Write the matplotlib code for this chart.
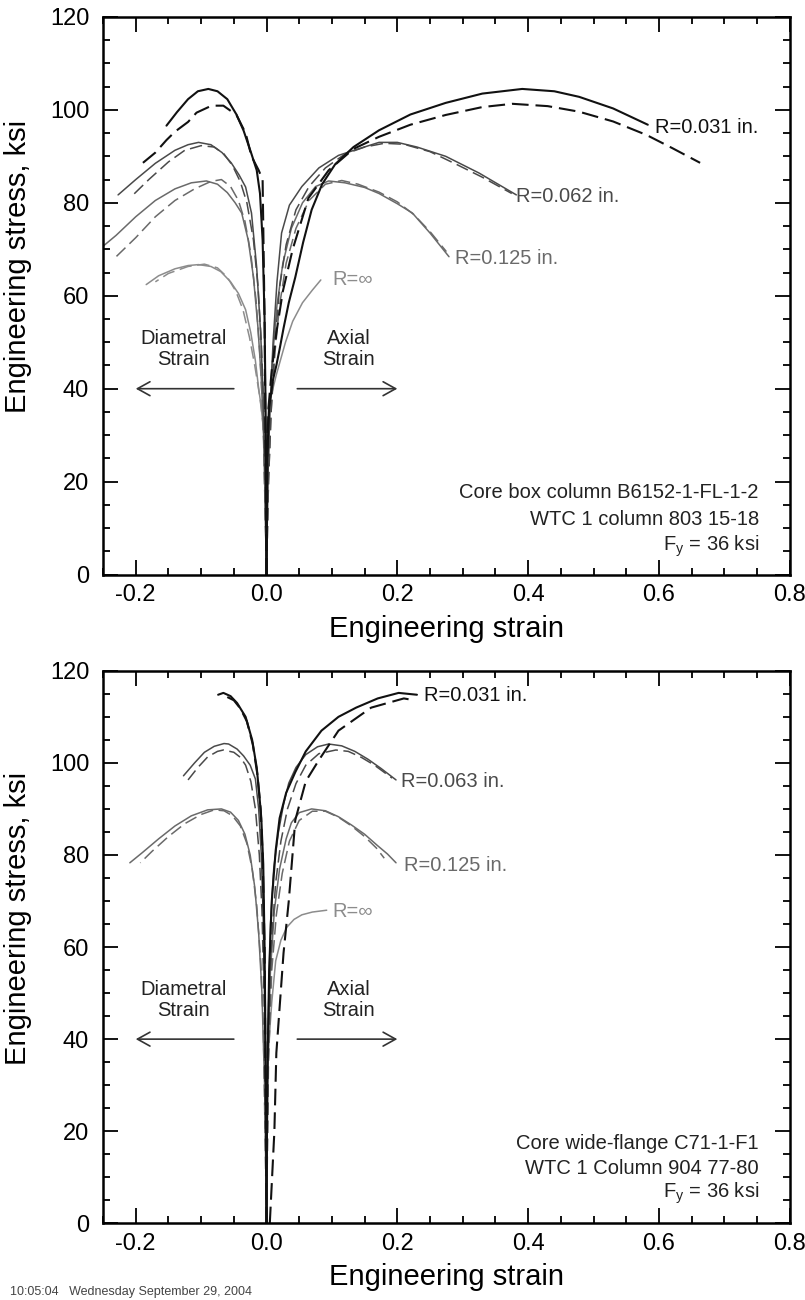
import numpy as np
import matplotlib
matplotlib.use("Agg")
import matplotlib.pyplot as plt
from matplotlib.ticker import MultipleLocator

plt.rcParams['font.family'] = ['Liberation Sans', 'DejaVu Sans']
plt.rcParams['mathtext.fontset'] = 'custom'
plt.rcParams['mathtext.rm'] = 'Liberation Sans'
plt.rcParams['lines.scale_dashes'] = False

# ---- top panel data (strain, stress ksi) ----
top_031_ax_solid = [(0, 0), (0.001, 25), (0.004, 36), (0.010, 42), (0.015, 45), (0.020, 48.5),
                    (0.026, 53), (0.034, 58.5), (0.044, 64), (0.056, 71.5), (0.069, 78.5), (0.085, 84),
                    (0.105, 88.3), (0.133, 92), (0.172, 95.6), (0.22, 99), (0.274, 101.5), (0.33, 103.5),
                    (0.391, 104.5), (0.44, 104), (0.478, 102.8), (0.53, 100.3), (0.583, 96.8)]
top_031_ax_dash = [(0, 0), (0.001, 25), (0.003, 36), (0.008, 44), (0.015, 52), (0.025, 61), (0.04, 70),
                   (0.064, 81), (0.095, 87), (0.133, 91.6), (0.172, 94.2), (0.22, 96.8), (0.274, 98.9),
                   (0.33, 100.6), (0.376, 101.3), (0.43, 100.8), (0.478, 99.6), (0.53, 97.5),
                   (0.581, 94.6), (0.62, 91.8), (0.663, 88.6)]
top_031_di_solid = [(0, 0), (-0.001, 30), (-0.003, 55), (-0.006, 72), (-0.010, 82), (-0.015, 87),
                    (-0.023, 90.5), (-0.035, 95.5), (-0.046, 99), (-0.06, 102.3), (-0.075, 104),
                    (-0.089, 104.5), (-0.105, 104), (-0.12, 102.3), (-0.137, 99.5), (-0.153, 96.6)]
top_031_di_dash = [(0, 0), (-0.003, 55), (-0.005, 75), (-0.006, 85), (-0.012, 87), (-0.023, 90),
                   (-0.032, 95), (-0.046, 98.9), (-0.066, 100.9), (-0.084, 100.9), (-0.107, 99.4),
                   (-0.12, 97.4), (-0.14, 95.3), (-0.153, 93.5), (-0.17, 90.8), (-0.189, 88.6)]

top_062_ax_solid = [(0, 0), (0.002, 20), (0.005, 35), (0.01, 50), (0.016, 63), (0.023, 73.5),
                    (0.035, 79.5), (0.054, 83.5), (0.08, 87.5), (0.11, 90.2), (0.136, 91.4),
                    (0.172, 93), (0.2, 93), (0.23, 92), (0.274, 90), (0.325, 86.4), (0.382, 81.7)]
top_062_ax_dash = [(0, 0), (0.003, 20), (0.007, 35), (0.013, 50), (0.02, 62), (0.03, 71), (0.045, 78.5),
                   (0.065, 83.5), (0.09, 87.5), (0.12, 90.5), (0.15, 92), (0.18, 92.8), (0.21, 92.6),
                   (0.25, 91), (0.29, 88.3), (0.33, 85.5), (0.375, 82)]
top_062_di_solid = [(0, 0), (-0.002, 20), (-0.005, 38), (-0.009, 52), (-0.015, 66), (-0.023, 77.8),
                    (-0.032, 83.4), (-0.042, 86), (-0.054, 88.6), (-0.068, 90.8), (-0.085, 92.5),
                    (-0.104, 93), (-0.12, 92.5), (-0.14, 91.3), (-0.17, 88.5), (-0.2, 85), (-0.227, 81.7)]
top_062_di_dash = [(0, 0), (-0.004, 35), (-0.008, 50), (-0.013, 62), (-0.02, 72), (-0.03, 80),
                   (-0.04, 84.5), (-0.052, 88), (-0.065, 90.5), (-0.08, 92), (-0.1, 92.3),
                   (-0.125, 91.3), (-0.15, 88.8), (-0.18, 85), (-0.207, 81.3)]

top_125_ax_solid = [(0, 0), (0.002, 20), (0.005, 35), (0.01, 48), (0.016, 58), (0.025, 67),
                    (0.038, 74.5), (0.055, 80), (0.075, 83.5), (0.095, 84.7), (0.12, 84.3),
                    (0.15, 83.3), (0.172, 82), (0.2, 79.8), (0.223, 77.8), (0.25, 73.5), (0.279, 68.4)]
top_125_ax_dash = [(0, 0), (0.003, 20), (0.007, 35), (0.013, 48), (0.02, 58), (0.03, 67), (0.045, 74.5),
                   (0.065, 80.5), (0.09, 84), (0.115, 84.8), (0.14, 84), (0.172, 82.3), (0.2, 80.2),
                   (0.225, 77.5), (0.25, 73.8), (0.275, 69.5)]
top_125_di_solid = [(0, 0), (-0.004, 28), (-0.008, 42), (-0.013, 53), (-0.02, 64), (-0.028, 72),
                    (-0.038, 77.8), (-0.048, 80), (-0.06, 82.2), (-0.075, 84), (-0.092, 84.7),
                    (-0.115, 84.3), (-0.14, 83), (-0.17, 80.5), (-0.2, 77), (-0.23, 73), (-0.253, 70.3)]
top_125_di_dash = [(0, 0), (-0.005, 33), (-0.01, 47), (-0.016, 59), (-0.024, 69), (-0.033, 76),
                   (-0.043, 80.5), (-0.055, 83.5), (-0.069, 85), (-0.085, 84.6), (-0.11, 83),
                   (-0.14, 80.5), (-0.17, 77), (-0.2, 72.5), (-0.23, 68.4)]

top_inf_ax = [(0, 0), (0.001, 25), (0.003, 36), (0.008, 39), (0.015, 43), (0.022, 46.5), (0.029, 50),
              (0.04, 54.5), (0.055, 58.5), (0.07, 61.2), (0.083, 63.4)]
top_inf_di_solid = [(0, 0), (-0.004, 30), (-0.008, 36), (-0.012, 40), (-0.017, 46), (-0.024, 52),
                    (-0.032, 57), (-0.043, 60.5), (-0.055, 63), (-0.07, 65.2), (-0.085, 66.3),
                    (-0.104, 66.7), (-0.12, 66.5), (-0.14, 65.8), (-0.165, 64.3), (-0.184, 62.4)]
top_inf_di_dash = [(0, 0), (-0.005, 32), (-0.01, 38), (-0.018, 45), (-0.026, 51), (-0.036, 57),
                   (-0.047, 61), (-0.06, 64), (-0.075, 66), (-0.095, 66.8), (-0.12, 66.3),
                   (-0.15, 64.8), (-0.17, 63)]

# ---- bottom panel data ----
bot_031_ax_solid = [(0, 0), (0.001, 30), (0.004, 55), (0.008, 70), (0.014, 81), (0.02, 88), (0.03, 93.5),
                    (0.044, 98), (0.06, 102.5), (0.084, 107), (0.11, 110), (0.137, 112), (0.17, 114),
                    (0.202, 115.2), (0.23, 114.8)]
bot_031_ax_dash = [(0.005, 0), (0.012, 20), (0.015, 37), (0.026, 58.7), (0.034, 70), (0.044, 87.6),
                   (0.06, 96), (0.08, 100.6), (0.11, 107), (0.16, 112), (0.21, 114), (0.222, 113.7)]
bot_031_di_solid = [(0, 0), (-0.001, 30), (-0.003, 60), (-0.005, 78), (-0.008, 88), (-0.011, 93),
                    (-0.015, 99), (-0.022, 105), (-0.032, 110), (-0.045, 113), (-0.055, 114.5),
                    (-0.066, 115.2), (-0.074, 114.8)]
bot_031_di_dash = [(0, 0), (-0.003, 60), (-0.006, 80), (-0.009, 90), (-0.014, 97.5), (-0.021, 104),
                   (-0.03, 109), (-0.04, 111.8), (-0.05, 113.6), (-0.06, 114.3)]

bot_063_ax_solid = [(0, 0), (0.002, 40), (0.006, 65), (0.011, 77), (0.018, 84.8), (0.026, 91),
                    (0.034, 95.6), (0.045, 99), (0.06, 101.8), (0.078, 103.5), (0.095, 104.1),
                    (0.115, 103.7), (0.135, 102.5), (0.155, 100.8), (0.175, 98.8), (0.198, 96.3)]
bot_063_ax_dash = [(0, 0), (0.003, 40), (0.008, 62), (0.014, 74), (0.022, 83), (0.032, 90), (0.045, 95.5),
                   (0.06, 99.5), (0.08, 102), (0.106, 102.8), (0.125, 102.5), (0.145, 101.2),
                   (0.165, 99.5), (0.192, 96.7)]
bot_063_di_solid = [(0, 0), (-0.002, 40), (-0.005, 66), (-0.008, 80), (-0.012, 90), (-0.017, 96.5),
                    (-0.025, 99.5), (-0.035, 101.5), (-0.045, 103), (-0.058, 104.1), (-0.065, 104.2),
                    (-0.08, 103.6), (-0.095, 102.3), (-0.11, 100), (-0.127, 97.2)]
bot_063_di_dash = [(0, 0), (-0.003, 45), (-0.007, 68), (-0.011, 80), (-0.017, 90), (-0.024, 96),
                   (-0.032, 99.5), (-0.04, 101.2), (-0.05, 102.3), (-0.066, 102.8), (-0.075, 102.5),
                   (-0.09, 101.3), (-0.105, 99), (-0.12, 96.3)]

bot_125_ax_solid = [(0, 0), (0.002, 35), (0.006, 55), (0.012, 68), (0.02, 77), (0.03, 83.5), (0.038, 87),
                    (0.05, 89.2), (0.069, 90), (0.09, 89.6), (0.11, 88.3), (0.13, 86.5), (0.15, 84.5),
                    (0.17, 82), (0.185, 80.2), (0.198, 78.3)]
bot_125_ax_dash = [(0, 0), (0.003, 35), (0.008, 55), (0.015, 67), (0.024, 76), (0.035, 83), (0.05, 87.5),
                   (0.07, 89.5), (0.09, 89.5), (0.11, 88.2), (0.13, 86.3), (0.15, 84), (0.168, 81.5),
                   (0.18, 79.3)]
bot_125_di_solid = [(0, 0), (-0.003, 30), (-0.007, 50), (-0.012, 63), (-0.018, 73), (-0.025, 80),
                    (-0.033, 84.5), (-0.043, 87.5), (-0.055, 89.3), (-0.069, 90), (-0.09, 89.8),
                    (-0.115, 88.5), (-0.14, 86.3), (-0.165, 83.5), (-0.19, 80.5), (-0.209, 78.3)]
bot_125_di_dash = [(0, 0), (-0.005, 43), (-0.009, 57), (-0.015, 69), (-0.022, 77), (-0.03, 82.5),
                   (-0.04, 86.3), (-0.052, 88.5), (-0.065, 89.6), (-0.08, 89.8), (-0.1, 88.8),
                   (-0.125, 86.8), (-0.15, 84), (-0.175, 80.8), (-0.193, 78.3)]

bot_inf_ax = [(0, 0), (0.001, 30), (0.004, 40), (0.008, 48), (0.014, 57), (0.022, 61.5), (0.031, 64.3),
              (0.042, 66), (0.054, 67), (0.07, 67.6), (0.092, 68)]

top_box = ["Core box column B6152-1-FL-1-2", "WTC 1 column 803 15-18", r"F$_{\mathrm{y}}$ = 36 ksi"]
bot_box = ["Core wide-flange C71-1-F1", "WTC 1 Column 904 77-80", r"F$_{\mathrm{y}}$ = 36 ksi"]
top_rlabels = ["R=0.031 in.", "R=0.062 in.", "R=0.125 in.", "R=\u221e"]
bot_rlabels = ["R=0.031 in.", "R=0.063 in.", "R=0.125 in.", "R=\u221e"]

C031, C062, C125, CINF = '#111111', '#4a4a4a', '#6a6a6a', '#8c8c8c'

fig = plt.figure(figsize=(8.05, 13.0), dpi=100)
ax1 = fig.add_axes([0.128, 0.558, 0.853, 0.429])
ax2 = fig.add_axes([0.128, 0.059, 0.853, 0.425])


def curve(ax, pts, color, dashed=False, lw=1.2):
    a = np.array(pts)
    ln, = ax.plot(a[:, 0], a[:, 1], color=color, lw=lw, solid_capstyle='round',
                  solid_joinstyle='round')
    if dashed:
        ln.set_dashes((12, 5) if color == C031 else (9, 4))


def style(ax):
    ax.set_xlim(-0.25, 0.8)
    ax.set_ylim(0, 120)
    ax.xaxis.set_major_locator(MultipleLocator(0.2))
    ax.xaxis.set_minor_locator(MultipleLocator(0.05))
    ax.yaxis.set_major_locator(MultipleLocator(20))
    ax.yaxis.set_minor_locator(MultipleLocator(5))
    ax.xaxis.set_major_formatter(plt.FuncFormatter(lambda v, p: "%.1f" % v))
    ax.tick_params(which='both', direction='in', top=True, right=True, width=1.3, labelsize=17)
    ax.tick_params(which='major', length=11)
    ax.tick_params(which='minor', length=5)
    ax.tick_params(axis='x', pad=7)
    ax.tick_params(axis='y', pad=10)
    for s in ax.spines.values():
        s.set_linewidth(1.8)
    ax.set_xlabel("Engineering strain", fontsize=21)
    ax.set_ylabel("Engineering stress, ksi", fontsize=21)
    ax.xaxis.set_label_coords(0.5, -0.072)
    ax.yaxis.set_label_coords(-0.103, 0.552)
    ax.annotate('', xy=(-0.2, 40), xytext=(-0.05, 40),
                arrowprops=dict(arrowstyle='->,head_length=0.45,head_width=0.25', lw=1.2,
                                color='#333333', mutation_scale=20, shrinkA=0, shrinkB=0))
    ax.annotate('', xy=(0.2, 40), xytext=(0.047, 40),
                arrowprops=dict(arrowstyle='->,head_length=0.45,head_width=0.25', lw=1.2,
                                color='#333333', mutation_scale=20, shrinkA=0, shrinkB=0))
    ax.text(-0.127, 48.5, "Diametral\nStrain", ha='center', va='center', fontsize=14.5,
            linespacing=1.1, color='#222222')
    ax.text(0.126, 48.5, "Axial\nStrain", ha='center', va='center', fontsize=14.5,
            linespacing=1.1, color='#222222')


# top panel
for pts, c, d in [(top_inf_di_dash, CINF, True), (top_inf_di_solid, CINF, False), (top_inf_ax, CINF, False),
                  (top_125_di_dash, C125, True), (top_125_di_solid, C125, False),
                  (top_125_ax_dash, C125, True), (top_125_ax_solid, C125, False),
                  (top_062_di_dash, C062, True), (top_062_di_solid, C062, False),
                  (top_062_ax_dash, C062, True), (top_062_ax_solid, C062, False)]:
    curve(ax1, pts, c, d, lw=1.1)
for pts, d in [(top_031_di_dash, True), (top_031_di_solid, False),
               (top_031_ax_dash, True), (top_031_ax_solid, False)]:
    curve(ax1, pts, C031, d, lw=1.5)
style(ax1)
for lab, (x, y), c in zip(top_rlabels, [(0.594, 96.1), (0.382, 81.3), (0.288, 68), (0.1, 63.4)],
                          [C031, C062, C125, CINF]):
    ax1.text(x, y, lab, fontsize=14.5, color=c, ha='left', va='center')
for i, line in enumerate(top_box):
    ax1.text(0.955, 0.147 - i * 0.0485, line, transform=ax1.transAxes, ha='right', va='center',
             fontsize=14.5, color='#222222')

# bottom panel
for pts, c, d in [(bot_inf_ax, CINF, False),
                  (bot_125_di_dash, C125, True), (bot_125_di_solid, C125, False),
                  (bot_125_ax_dash, C125, True), (bot_125_ax_solid, C125, False),
                  (bot_063_di_dash, C062, True), (bot_063_di_solid, C062, False),
                  (bot_063_ax_dash, C062, True), (bot_063_ax_solid, C062, False)]:
    curve(ax2, pts, c, d, lw=1.1)
for pts, d in [(bot_031_di_dash, True), (bot_031_di_solid, False),
               (bot_031_ax_dash, True), (bot_031_ax_solid, False)]:
    curve(ax2, pts, C031, d, lw=1.5)
style(ax2)
for lab, (x, y), c in zip(bot_rlabels, [(0.241, 114.6), (0.206, 95.9), (0.21, 77.8), (0.1, 67.8)],
                          [C031, C062, C125, CINF]):
    ax2.text(x, y, lab, fontsize=14.5, color=c, ha='left', va='center')
for i, line in enumerate(bot_box):
    ax2.text(0.955, 0.145 - i * 0.0455, line, transform=ax2.transAxes, ha='right', va='center',
             fontsize=14.5, color='#222222')

fig.text(0.012, 0.0012, "10:05:04   Wednesday September 29, 2004", fontsize=9,
         color='#444444', ha='left', va='bottom')

fig.savefig("out.png", dpi=100, facecolor='white')
